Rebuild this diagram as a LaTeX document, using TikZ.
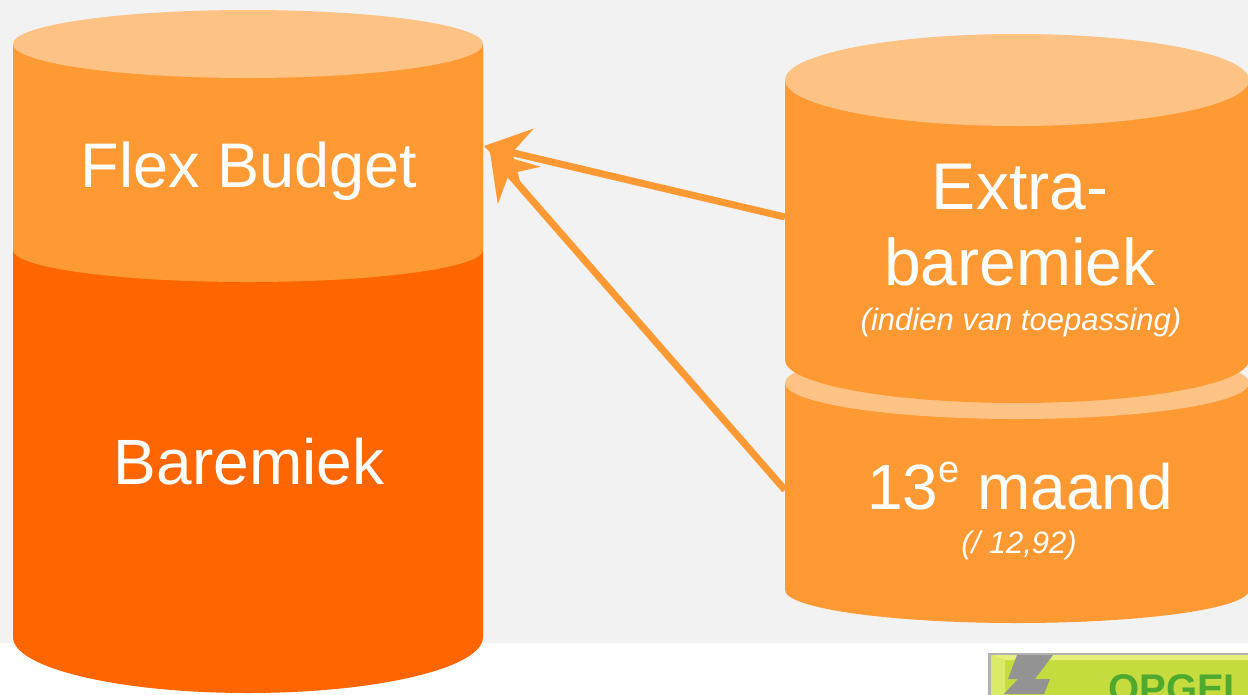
\documentclass[tikz,border=0pt]{standalone}
\usepackage{fontspec}
\setmainfont{Liberation Sans}
\usetikzlibrary{arrows.meta}
\definecolor{bg}{HTML}{F2F2F2}
\definecolor{lightor}{HTML}{FEC285}
\definecolor{midor}{HTML}{FF9933}
\definecolor{darkor}{HTML}{FF6600}
\definecolor{btn}{HTML}{C6DB3E}
\definecolor{btnlight}{HTML}{E4F07A}
\definecolor{btntext}{HTML}{4DAA2E}
\begin{document}
\begin{tikzpicture}[x=1pt,y=-1pt,
  bigtxt/.style={text=white,font=\fontsize{64}{70}\selectfont,inner sep=0pt,anchor=base},
  smalltxt/.style={text=white,font=\fontsize{31}{36}\selectfont\itshape,inner sep=0pt,anchor=base},
  arrowline/.style={draw=midor,line width=7pt,-{Stealth[length=44pt,width=56pt,inset=15pt]}}]
\useasboundingbox (0,0) rectangle (1248,694);
\clip (0,0) rectangle (1248,694);
% background
\fill[white] (0,0) rectangle (1248,694);
\fill[bg] (0,0) rectangle (1248,643);
% left cylinder
\fill[darkor] (13,250) -- (13,637) arc[start angle=180,end angle=360,x radius=235pt,y radius=56pt] -- (483,250) -- cycle;
\fill[midor] (13,44) -- (13,250) arc[start angle=180,end angle=360,x radius=235pt,y radius=32pt] -- (483,44) -- cycle;
\fill[lightor] (248,44) ellipse[x radius=235pt,y radius=34pt];
% right lower cylinder
\fill[midor] (785,383) -- (785,590) arc[start angle=180,end angle=360,x radius=232pt,y radius=33pt] -- (1249,383) -- cycle;
\fill[lightor] (1017,383) ellipse[x radius=232pt,y radius=36pt];
% right upper cylinder
\fill[midor] (785,80) -- (785,360) arc[start angle=180,end angle=360,x radius=232pt,y radius=43pt] -- (1249,80) -- cycle;
\fill[lightor] (1017,80) ellipse[x radius=232pt,y radius=46pt];
% texts
\node[bigtxt,font=\fontsize{63}{70}\selectfont] (flex) at (249,187) {Flex Budget};
\node[bigtxt] (barem) at (249,484) {Baremiek};
\node[bigtxt,font=\fontsize{66}{72}\selectfont] (extra) at (1020,209) {Extra-};
\node[bigtxt,font=\fontsize{66}{72}\selectfont] (extrab) at (1020,285) {baremiek};
\node[smalltxt] (indien) at (1021,330) {(indien van toepassing)};
\node[bigtxt] (maand) at (1020,509) {13\raisebox{0.42em}{\fontsize{38}{40}\selectfont e} maand};
\node[smalltxt] (deel) at (1019,553) {(/ 12,92)};
% arrows
\coordinate (a1s) at (785,217);
\coordinate (a1e) at (484,146);
\coordinate (a2s) at (785,490);
\coordinate (a2e) at (490,152);
\draw[arrowline] (a1s) -- (a1e);
\draw[arrowline] (a2s) -- (a2e);
% button
\fill[gray!60] (988,653) rectangle (1260,720);
\fill[btn] (991,655) rectangle (1260,720);
\fill[btnlight] (991,655) -- (1260,655) -- (1260,660) -- (1005,660) -- cycle;
\fill[btnlight!70!btn] (991,655) -- (1005,660) -- (1005,720) -- (991,720) -- cycle;
\fill[gray!85] (1017,655) -- (1053,655) -- (1035,679) -- (1050,679) -- (1044,694) -- (1004,694) -- (1018,679) -- (1008,679) -- cycle;
\node[text=btntext,font=\fontsize{40}{44}\selectfont\bfseries,inner sep=0pt,anchor=base west] (opg) at (1108,702) {OPGELE};
\end{tikzpicture}
\end{document}
